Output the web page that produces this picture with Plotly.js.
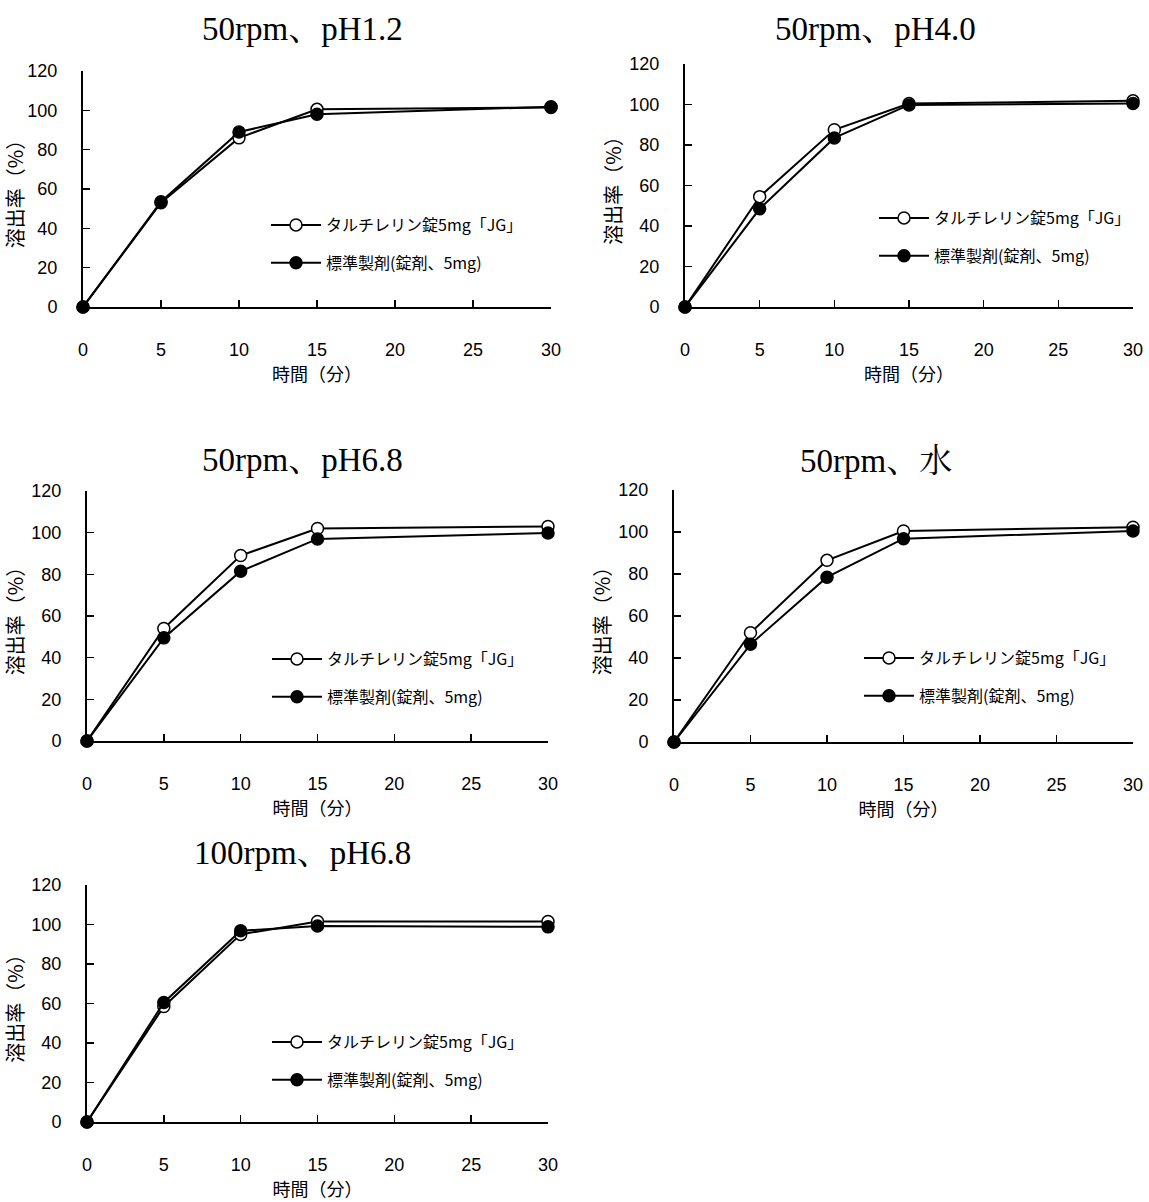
<!DOCTYPE html>
<html>
<head>
<meta charset="utf-8">
<script src="https://cdn.plot.ly/plotly-3.0.1.min.js"></script>
<style>html,body{margin:0;padding:0;background:#fff;}</style>
</head>
<body>
<div id="chart" style="width:1149px;height:1202px;"></div>
<script>
// ---- data ----
const times = [0, 5, 10, 15, 30];
const xTicks = [0, 5, 10, 15, 20, 25, 30];
const yTicks = [0, 20, 40, 60, 80, 100, 120];
const panelTitles = ["50rpm、pH1.2", "50rpm、pH4.0", "50rpm、pH6.8", "50rpm、水", "100rpm、pH6.8"];
const seriesNames = ["タルチレリン錠5mg「JG」", "標準製剤(錠剤、5mg)"];
const xTitle = "時間（分）";
const yTitle = "溶出率（%）";

const testPH12 = [0, 53, 86, 100.5, 101.5];
const refPH12  = [0, 53.5, 89, 98, 101.8];
const testPH40 = [0, 54.5, 87.5, 100.5, 101.8];
const refPH40  = [0, 48.5, 83.5, 99.8, 100.5];
const testPH68 = [0, 54, 89, 102, 103];
const refPH68  = [0, 49.5, 81.5, 97, 99.8];
const testWater = [0, 52, 86.5, 100.5, 102.3];
const refWater  = [0, 46.5, 78.5, 96.8, 100.5];
const testPH68r100 = [0, 58.5, 95, 101.5, 101.5];
const refPH68r100  = [0, 60.5, 96.8, 99.2, 98.8];

const testSets = [testPH12, testPH40, testPH68, testWater, testPH68r100];
const refSets = [refPH12, refPH40, refPH68, refWater, refPH68r100];

// ---- layout geometry (pixels) ----
const W = 1149, H = 1202;
const panels = [
  {x0: 83, x1: 551, y0: 307, y1: 71,  tx: 302, ty: 29,  lx: 326, ly: 222, ystand: 0},
  {x0: 685, x1: 1133, y0: 307, y1: 64, tx: 875, ty: 29,  lx: 934, ly: 215, ystand: 2},
  {x0: 87, x1: 548, y0: 741, y1: 491, tx: 302, ty: 460, lx: 327, ly: 656, ystand: 2},
  {x0: 674, x1: 1133, y0: 742, y1: 490, tx: 876, ty: 461, lx: 919, ly: 655, ystand: 2},
  {x0: 87, x1: 548, y0: 1122, y1: 885, tx: 302, ty: 853, lx: 327, ly: 1039, ystand: 2}
];

const tickFont = {family: "Liberation Sans, Arial, sans-serif", size: 18, color: "#000"};
const jpFont = "Noto Sans CJK JP, sans-serif";

const data = [];
const layout = {
  width: W, height: H,
  margin: {l: 0, r: 0, t: 0, b: 0},
  paper_bgcolor: "#fff", plot_bgcolor: "#fff",
  showlegend: true,
  annotations: []
};

panels.forEach((p, i) => {
  const n = i + 1;
  const xa = n === 1 ? "x" : "x" + n;
  const ya = n === 1 ? "y" : "y" + n;
  const lg = n === 1 ? "legend" : "legend" + n;
  const sets = [testSets[i], refSets[i]];
  sets.forEach((vals, k) => {
    data.push({
      type: "scatter", mode: "lines+markers",
      x: times, y: vals,
      xaxis: xa, yaxis: ya,
      name: seriesNames[k],
      legend: lg,
      legendgroup: "g" + n + "_" + k,
      cliponaxis: false,
      line: {color: "#000", width: 2},
      marker: {
        symbol: "circle", size: 12,
        color: k === 0 ? "#fff" : "#000",
        line: {color: "#000", width: 1.5}
      }
    });
  });
  layout["xaxis" + (n === 1 ? "" : n)] = {
    domain: [p.x0 / W, p.x1 / W],
    anchor: ya,
    range: [0, 30],
    tickvals: xTicks,
    ticks: "inside", ticklen: 7, tickwidth: 1.5, tickcolor: "#000",
    showline: true, linewidth: 2, linecolor: "#000",
    showgrid: false, zeroline: false,
    tickfont: tickFont,
    ticklabelstandoff: 25,
    title: {text: xTitle, font: {family: jpFont, size: 18, color: "#000"}, standoff: 3}
  };
  layout["yaxis" + (n === 1 ? "" : n)] = {
    domain: [1 - p.y0 / H, 1 - p.y1 / H],
    anchor: xa,
    range: [0, 120],
    tickvals: yTicks,
    ticks: "inside", ticklen: 7, tickwidth: 1.5, tickcolor: "#000",
    showline: true, linewidth: 2, linecolor: "#000",
    showgrid: false, zeroline: false,
    tickfont: tickFont,
    ticklabelstandoff: 20,
    title: {text: yTitle, font: {family: jpFont, size: 20, color: "#000"}, standoff: p.ystand}
  };
  layout[lg] = {
    x: (p.lx - 60) / W, xanchor: "left",
    y: 1 - (p.ly - 14) / H, yanchor: "top",
    xref: "paper", yref: "paper",
    bgcolor: "rgba(0,0,0,0)", borderwidth: 0,
    itemwidth: 50,
    tracegroupgap: 14,
    traceorder: "grouped",
    font: {family: jpFont, size: 16, color: "#000"}
  };
  layout.annotations.push({
    text: panelTitles[i], xref: "paper", yref: "paper",
    x: p.tx / W, y: 1 - p.ty / H, xanchor: "center", yanchor: "middle",
    showarrow: false,
    font: {family: "Liberation Serif, Noto Serif CJK JP, serif", size: 33, color: "#000"}
  });
});

Plotly.newPlot("chart", data, layout, {displayModeBar: false, staticPlot: true});
</script>
</body>
</html>
